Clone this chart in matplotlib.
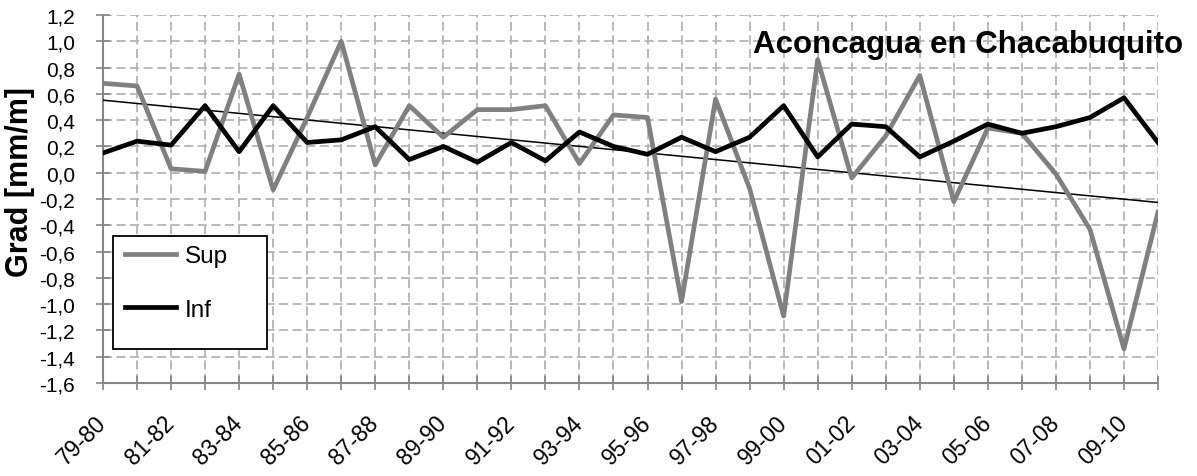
import matplotlib.pyplot as plt
import matplotlib.patches as mpatches
import numpy as np

plt.rcParams['font.family'] = ['Liberation Sans', 'DejaVu Sans']

# Hydrological years 79-80 ... 10-11
years = ['79-80', '80-81', '81-82', '82-83', '83-84', '84-85', '85-86', '86-87',
         '87-88', '88-89', '89-90', '90-91', '91-92', '92-93', '93-94', '94-95',
         '95-96', '96-97', '97-98', '98-99', '99-00', '00-01', '01-02', '02-03',
         '03-04', '04-05', '05-06', '06-07', '07-08', '08-09', '09-10', '10-11']

sup = [0.68, 0.66, 0.03, 0.01, 0.75, -0.13, 0.42, 1.00,
       0.06, 0.51, 0.27, 0.48, 0.48, 0.51, 0.07, 0.44,
       0.42, -0.98, 0.56, -0.12, -1.09, 0.86, -0.04, 0.28,
       0.74, -0.22, 0.34, 0.30, -0.01, -0.43, -1.34, -0.30]

inf = [0.15, 0.24, 0.21, 0.51, 0.16, 0.51, 0.23, 0.25,
       0.35, 0.10, 0.20, 0.08, 0.23, 0.09, 0.31, 0.20,
       0.14, 0.27, 0.16, 0.27, 0.51, 0.12, 0.37, 0.35,
       0.12, 0.24, 0.37, 0.30, 0.35, 0.42, 0.57, 0.23]

x = np.arange(len(years))

W, H = 1197, 477
fig = plt.figure(figsize=(W / 100, H / 100), dpi=100)
ax = fig.add_axes([103 / W, 1 - 384 / H, (1158 - 103) / W, (384 - 16) / H])

# Linear trend of the upper series
coef = np.polyfit(x, sup, 1)
ax.plot(x, np.polyval(coef, x), color='black', linewidth=1.1, zorder=3)

ax.plot(x, sup, color='#808080', linewidth=3.4, label='Sup', zorder=4)
ax.plot(x, inf, color='black', linewidth=3.4, label='Inf', zorder=5)

ax.set_xlim(0, len(years) - 1)
ax.set_ylim(-1.6, 1.2)

yt = np.round(np.arange(-1.6, 1.21, 0.2), 1)
ax.set_yticks(yt)
ax.set_yticklabels([f'{v:.1f}'.replace('.', ',').replace('-0,0', '0,0') for v in yt], fontsize=15)

ax.set_xticks(x)
ax.set_xticklabels([y if i % 2 == 0 else '' for i, y in enumerate(years)],
                   rotation=45, ha='right', va='center', rotation_mode='anchor', fontsize=16.5)

ax.grid(True, color='#b4b4b4', linestyle=(0, (5, 2.5)), linewidth=1.3)
ax.set_axisbelow(True)
for side in ['top', 'right']:
    ax.spines[side].set_visible(False)
for side in ['left', 'bottom']:
    ax.spines[side].set_color('#868686')
    ax.spines[side].set_linewidth(1.5)
ax.tick_params(axis='both', direction='inout', length=10, color='#868686', width=1.2)
ax.tick_params(axis='x', pad=21)
ax.tick_params(axis='y', pad=15)

ax.set_ylabel('Grad [mm/m]', fontsize=22, fontweight='bold')
ax.yaxis.set_label_coords((35 - 103) / 1055, (384 - 182) / 368)

fig.text(1183 / W, 1 - 53 / H, 'Aconcagua en Chacabuquito', fontsize=22.5,
         fontweight='bold', ha='right', va='baseline')

# Legend box drawn separately (Excel-style, wider than its entries)
box = mpatches.Rectangle((113 / W, 1 - 350 / H), 154 / W, 113 / H, transform=fig.transFigure,
                         facecolor='white', edgecolor='black', linewidth=1.3, zorder=6)
ax.add_patch(box)
leg = ax.legend(loc='upper left', bbox_to_anchor=(125 / W, 1 - 246 / H),
                bbox_transform=fig.transFigure, fontsize=17.5, frameon=False,
                labelspacing=1.3, handlelength=2.1, handletextpad=0.35,
                borderpad=0, borderaxespad=0)
leg.set_zorder(7)

fig.savefig('out.png', dpi=100)
